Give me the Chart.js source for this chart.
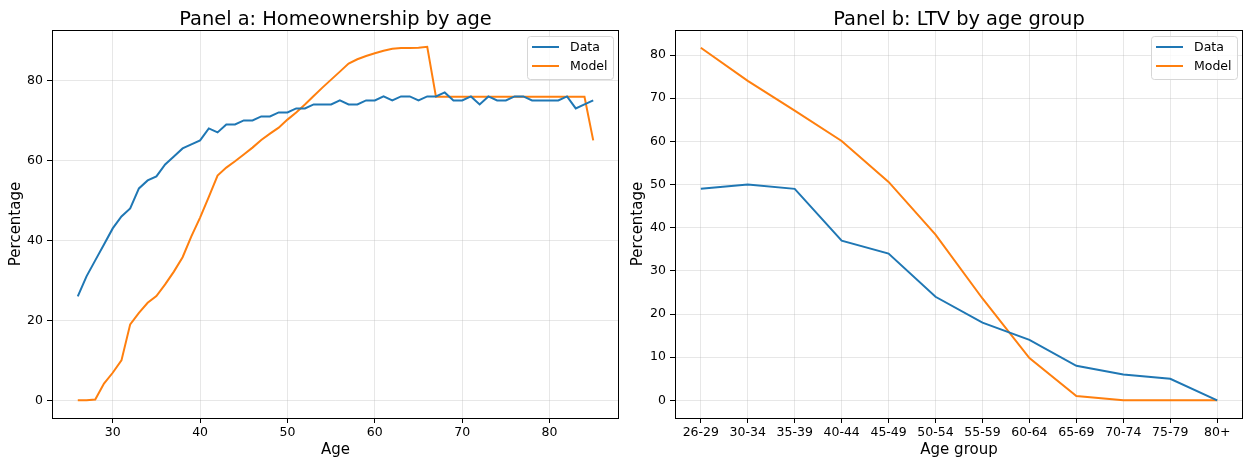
<!DOCTYPE html>
<html lang="en">
<head>
  <meta charset="UTF-8" />
  <title>Homeownership and LTV by age</title>
  <script src="https://cdn.jsdelivr.net/npm/chart.js@4.4.0/dist/chart.umd.min.js"></script>
  <style>
    body {
      margin: 0;
      background: #fff;
      font-family: "DejaVu Sans", sans-serif;
    }
    .panel {
      position: absolute;
      top: 0;
      width: 622px;
      height: 463px;
    }
    #panelA { left: 0; }
    #panelB { left: 622px; }
  </style>
</head>
<body>

  <div id="panelA" class="panel"><canvas id="homeChart" width="622" height="463"></canvas></div>
  <div id="panelB" class="panel"><canvas id="ltvChart" width="622" height="463"></canvas></div>

  <script>
    // Panel a: homeownership rate by single year of age
    const ages = [26, 27, 28, 29, 30, 31, 32, 33, 34, 35, 36, 37, 38, 39, 40, 41, 42, 43, 44, 45,
                  46, 47, 48, 49, 50, 51, 52, 53, 54, 55, 56, 57, 58, 59, 60, 61, 62, 63, 64, 65,
                  66, 67, 68, 69, 70, 71, 72, 73, 74, 75, 76, 77, 78, 79, 80, 81, 82, 83, 84, 85];
    const homeData = [26, 31, 35, 39, 43, 46, 48, 53, 55, 56, 59, 61, 63, 64, 65, 68, 67, 69, 69, 70,
                      70, 71, 71, 72, 72, 73, 73, 74, 74, 74, 75, 74, 74, 75, 75, 76, 75, 76, 76, 75,
                      76, 76, 77, 75, 75, 76, 74, 76, 75, 75, 76, 76, 75, 75, 75, 75, 76, 73, 74, 75];
    const homeModel = [0, 0, 0.2, 4.2, 6.9, 10, 19, 21.9, 24.4, 26.1, 29, 32.2, 35.8, 41, 45.7, 50.9, 56.2, 58.2, 59.8, 61.5,
                       63.2, 65.1, 66.7, 68.2, 70.2, 72, 74, 76.1, 78.2, 80.2, 82.2, 84.2, 85.3, 86.1, 86.8, 87.4, 87.9, 88.1, 88.1, 88.2,
                       88.4, 75.9, 75.9, 75.9, 75.9, 75.9, 75.9, 75.9, 75.9, 75.9, 75.9, 75.9, 75.9, 75.9, 75.9, 75.9, 75.9, 75.9, 75.9, 65];
    const homeTicksX = [30, 40, 50, 60, 70, 80];
    const homeTicksY = [0, 20, 40, 60, 80];

    // Panel b: loan-to-value by age group
    const ageGroups = ['26-29', '30-34', '35-39', '40-44', '45-49', '50-54', '55-59', '60-64', '65-69', '70-74', '75-79', '80+'];
    const ltvData = [49, 50, 49, 37, 34, 24, 18, 14, 8, 6, 5, 0];
    const ltvModel = [81.7, 74, 67.1, 60.1, 50.6, 38.4, 23.6, 9.8, 1, 0, 0, 0];
    const ltvTicksY = [0, 10, 20, 30, 40, 50, 60, 70, 80];

    const BLUE = '#1f77b4';
    const ORANGE = '#ff7f0e';
    const FONT = '"DejaVu Sans", sans-serif';

    // matplotlib-ish look: full frame, title above the axes, legend box top right
    const mplPlugin = {
      id: 'mplLook',
      afterDraw(chart, args, opts) {
        const ctx = chart.ctx;
        const a = chart.chartArea;
        ctx.save();
        // frame
        ctx.strokeStyle = '#000';
        ctx.lineWidth = 1;
        ctx.strokeRect(Math.round(a.left) + 0.5, Math.round(a.top) + 0.5,
                       Math.round(a.right - a.left) - 1, Math.round(a.bottom - a.top));
        // title
        ctx.fillStyle = '#000';
        ctx.font = '19.4px ' + FONT;
        ctx.textAlign = 'center';
        ctx.textBaseline = 'alphabetic';
        ctx.fillText(opts.title, (a.left + a.right) / 2, 25);
        // legend
        const w = 86, h = 43;
        const bx = a.right - 6 - w, by = a.top + 6;
        ctx.beginPath();
        ctx.roundRect(bx + 0.5, by + 0.5, w, h, 3);
        ctx.fillStyle = 'rgba(255,255,255,0.8)';
        ctx.fill();
        ctx.strokeStyle = '#d6d6d6';
        ctx.stroke();
        ctx.font = '12.5px ' + FONT;
        ctx.textAlign = 'left';
        ctx.textBaseline = 'middle';
        chart.data.datasets.forEach((ds, i) => {
          const y = by + 11 + i * 19;
          ctx.strokeStyle = ds.borderColor;
          ctx.lineWidth = 2;
          ctx.beginPath();
          ctx.moveTo(bx + 5, y);
          ctx.lineTo(bx + 32, y);
          ctx.stroke();
          ctx.fillStyle = '#000';
          ctx.fillText(ds.label, bx + 43, y + 1);
        });
        ctx.restore();
      }
    };

    function axisX(min, max, ticks, title, labelFn) {
      return {
        type: 'linear',
        min: min,
        max: max,
        afterBuildTicks: s => { s.ticks = ticks.map(v => ({ value: v })); },
        afterFit: s => { s.height = 45; },
        grid: { color: 'rgba(176,176,176,0.3)', lineWidth: 1, tickLength: 5, tickColor: '#000' },
        border: { display: false },
        ticks: {
          color: '#000', padding: 2, maxRotation: 0, autoSkip: false,
          font: { family: FONT, size: 12.5 },
          callback: labelFn || (v => v)
        },
        title: {
          display: true, text: title, color: '#000',
          font: { family: FONT, size: 15 }, padding: { top: 0, bottom: 4 }
        }
      };
    }

    function axisY(min, max, ticks, width) {
      return {
        type: 'linear',
        min: min,
        max: max,
        afterBuildTicks: s => { s.ticks = ticks.map(v => ({ value: v })); },
        afterFit: s => { s.width = width; },
        grid: { color: 'rgba(176,176,176,0.3)', lineWidth: 1, tickLength: 5, tickColor: '#000' },
        border: { display: false },
        ticks: {
          color: '#000', padding: 4,
          font: { family: FONT, size: 12.5 }
        },
        title: {
          display: true, text: 'Percentage', color: '#000',
          font: { family: FONT, size: 15 }, padding: { top: 7, bottom: 0 }
        }
      };
    }

    function lineSet(label, color, xs, ys) {
      return {
        label: label,
        data: xs.map((x, i) => ({ x: x, y: ys[i] })),
        borderColor: color,
        backgroundColor: color,
        borderWidth: 2,
        pointRadius: 0,
        tension: 0,
        fill: false
      };
    }

    new Chart(document.getElementById('homeChart'), {
      type: 'line',
      data: {
        datasets: [
          lineSet('Data', BLUE, ages, homeData),
          lineSet('Model', ORANGE, ages, homeModel)
        ]
      },
      options: {
        responsive: false,
        animation: false,
        layout: { padding: { top: 30, right: 3, left: 0, bottom: 0 } },
        scales: {
          x: axisX(23.05, 87.95, homeTicksX, 'Age'),
          y: axisY(-4.41, 92.61, homeTicksY, 52)
        },
        plugins: {
          legend: { display: false },
          tooltip: { enabled: false },
          mplLook: { title: 'Panel a: Homeownership by age' }
        }
      },
      plugins: [mplPlugin]
    });

    const groupIdx = ageGroups.map((g, i) => i);
    new Chart(document.getElementById('ltvChart'), {
      type: 'line',
      data: {
        datasets: [
          lineSet('Data', BLUE, groupIdx, ltvData),
          lineSet('Model', ORANGE, groupIdx, ltvModel)
        ]
      },
      options: {
        responsive: false,
        animation: false,
        layout: { padding: { top: 30, right: 1, left: 0, bottom: 0 } },
        scales: {
          x: axisX(-0.55, 11.55, groupIdx, 'Age group', v => ageGroups[v]),
          y: axisY(-4.09, 85.8, ltvTicksY, 53)
        },
        plugins: {
          legend: { display: false },
          tooltip: { enabled: false },
          mplLook: { title: 'Panel b: LTV by age group' }
        }
      },
      plugins: [mplPlugin]
    });
  </script>
</body>
</html>
